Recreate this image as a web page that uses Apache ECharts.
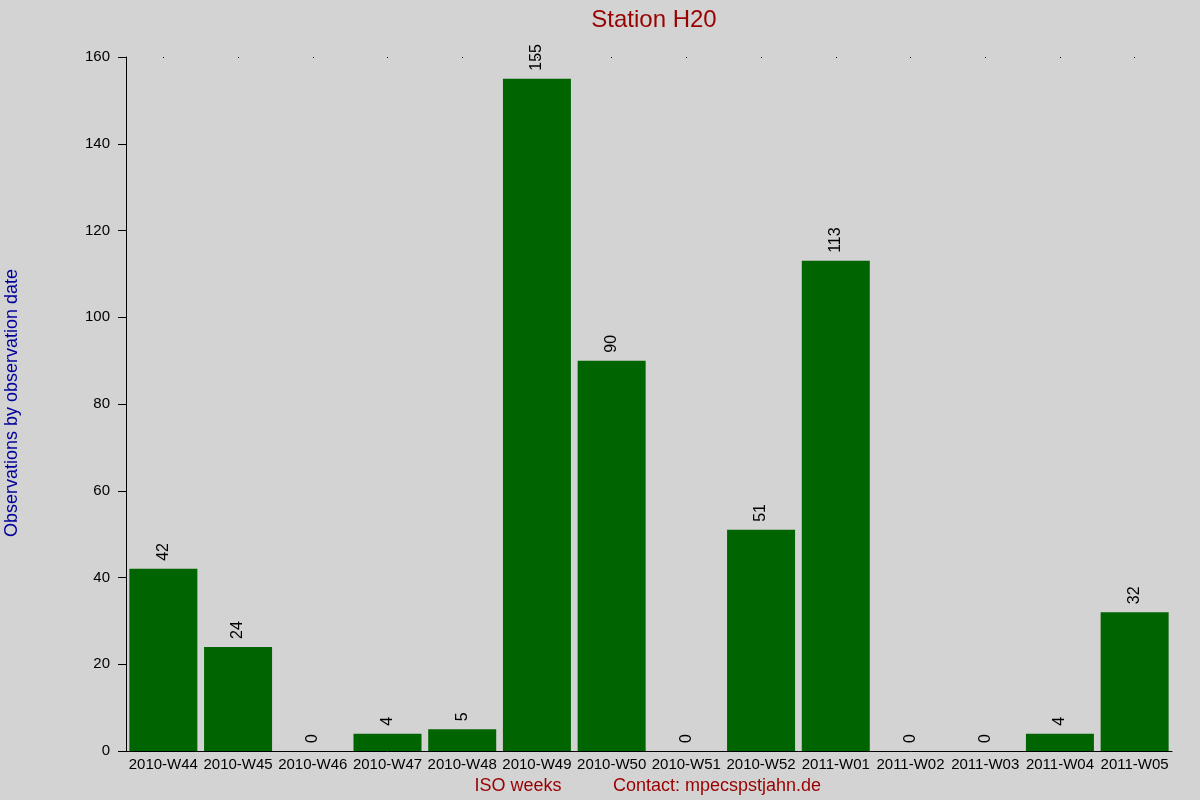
<!DOCTYPE html>
<html>
<head>
<meta charset="utf-8">
<script src="https://cdn.jsdelivr.net/npm/echarts@6/dist/echarts.min.js"></script>
<style>
  html, body { margin: 0; padding: 0; background: #d3d3d3; }
  #main { width: 1200px; height: 800px; }
</style>
</head>
<body>
<div id="main"></div>
<script>
// weekly counts
var weeks = ['2010-W44','2010-W45','2010-W46','2010-W47','2010-W48','2010-W49','2010-W50',
             '2010-W51','2010-W52','2011-W01','2011-W02','2011-W03','2011-W04','2011-W05'];
var counts = [42, 24, 0, 4, 5, 155, 90, 0, 51, 113, 0, 0, 4, 32];
var yTicks = [0, 20, 40, 60, 80, 100, 120, 140, 160];

var font = 'Liberation Sans, Arial, sans-serif';
var chart = echarts.init(document.getElementById('main'));
chart.setOption({
    backgroundColor: '#d3d3d3',
    animation: false,
    title: {
        text: 'Station H20',
        left: 649, top: 3, textAlign: 'center',
        textStyle: { color: '#990000', fontSize: 24, fontWeight: 'normal', fontFamily: font }
    },
    grid: { left: 126, right: 28, top: 57, bottom: 49 },
    xAxis: [
        {
            type: 'category',
            data: weeks,
            axisLine: { lineStyle: { color: '#000', width: 1 } },
            axisTick: { show: false },
            axisLabel: { interval: 0, color: '#000', fontSize: 15, fontFamily: font, margin: 6 }
        },
        {
            type: 'category',
            data: weeks,
            position: 'top',
            axisLine: { show: false },
            axisTick: { show: true, alignWithLabel: true, length: 1, inside: true, lineStyle: { color: '#000' } },
            axisLabel: { show: false }
        }
    ],
    yAxis: {
        type: 'value',
        min: yTicks[0], max: yTicks[yTicks.length - 1], interval: 20,
        axisLine: { show: true, lineStyle: { color: '#000', width: 1 } },
        axisTick: { show: true, length: 8, lineStyle: { color: '#000' } },
        splitLine: { show: false },
        axisLabel: { color: '#000', fontSize: 15, fontFamily: font, margin: 16 }
    },
    series: [{
        type: 'bar',
        data: counts,
        barCategoryGap: '9%',
        itemStyle: { color: '#006400' },
        label: {
            show: true, position: 'top', rotate: 90, distance: 8,
            align: 'left', verticalAlign: 'middle',
            color: '#000', fontSize: 16, fontFamily: font
        }
    }],
    graphic: [
        {
            type: 'text', x: 12, y: 403,
            rotation: Math.PI / 2,
            style: { text: 'Observations by observation date', fill: '#000099', font: '18px ' + font,
                     align: 'center', verticalAlign: 'middle' }
        },
        {
            type: 'text', x: 518, y: 786,
            style: { text: 'ISO weeks', fill: '#990000', font: '18px ' + font,
                     align: 'center', verticalAlign: 'middle' }
        },
        {
            type: 'text', x: 613, y: 786,
            style: { text: 'Contact: mpecspstjahn.de', fill: '#990000', font: '18px ' + font,
                     align: 'left', verticalAlign: 'middle' }
        }
    ]
});
</script>
</body>
</html>
